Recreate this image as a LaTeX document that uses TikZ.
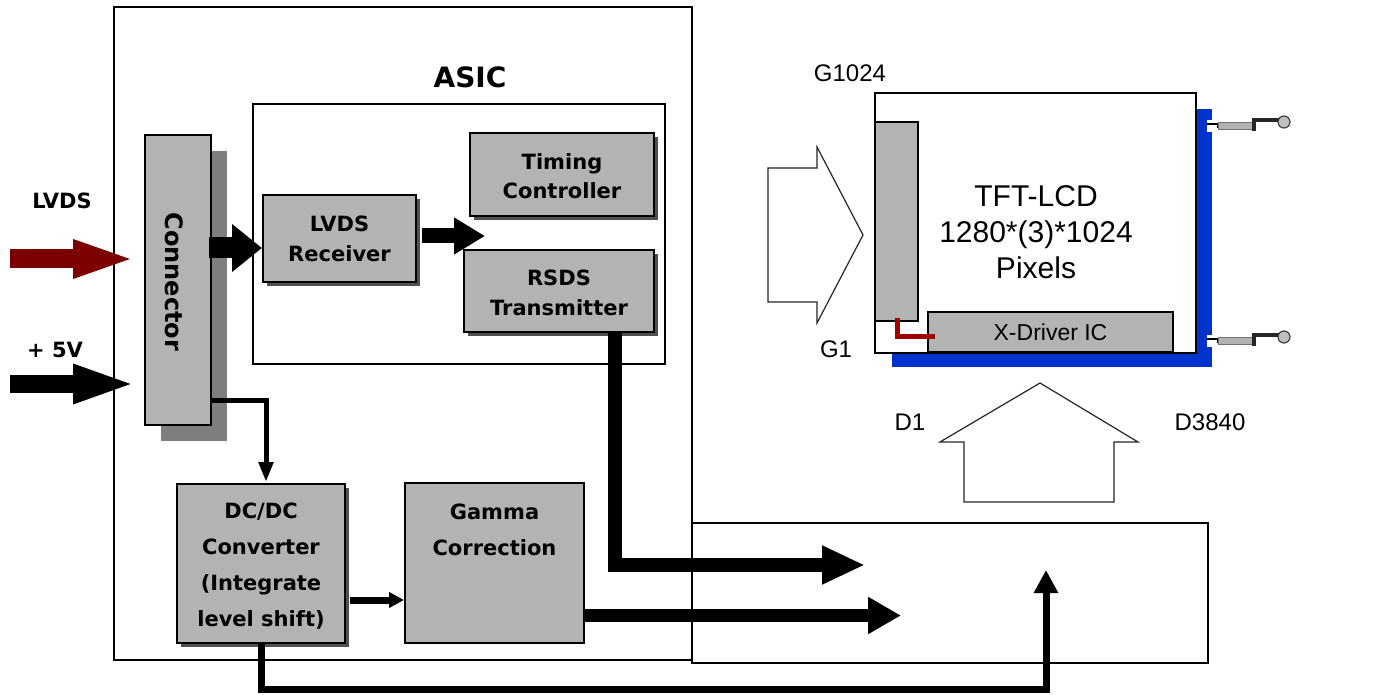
\documentclass[tikz,border=0pt]{standalone}
\usepackage{fontspec}
\setmainfont{Liberation Sans}
\newfontfamily\dejav{DejaVu Sans}
\usetikzlibrary{arrows.meta,shadows,calc}
\definecolor{boxgray}{HTML}{B3B3B3}
\definecolor{shadowgray}{HTML}{7F7F7F}
\definecolor{darkshadow}{HTML}{505050}
\definecolor{lvdsred}{HTML}{7D0000}
\definecolor{panelblue}{HTML}{0033CC}
\definecolor{wirered}{HTML}{A00000}
\begin{document}
\begin{tikzpicture}[x=0.5pt,y=-0.5pt,
  frame/.style={draw=black,line width=0.75pt},
  blk/.style={draw=black,line width=1pt,fill=boxgray,inner sep=0pt},
  sblk/.style={blk,general shadow={fill=darkshadow,shadow xshift=2pt,shadow yshift=-2pt}},
  btxt/.style={font=\dejav\bfseries\fontsize{10.5}{15}\selectfont,align=center,inner sep=0pt},
  ltxt/.style={font=\fontsize{12}{12}\selectfont,inner sep=0pt},
  outline/.style={draw=black!85,line width=0.6pt,fill=white,line join=miter},
]
\useasboundingbox (0,0) rectangle (1382,695);
\fill[white] (0,0) rectangle (1382,695);

% frames
\node[frame,minimum width=289pt,minimum height=326.5pt,inner sep=0pt] (asic) at (403,333.5) {};
\node[frame,minimum width=258pt,minimum height=70pt,inner sep=0pt] (outbox) at (950,593) {};
\node[frame,minimum width=206pt,minimum height=130pt,inner sep=0pt] (inner) at (459,234) {};
\node[font=\dejav\bfseries\fontsize{14}{14}\selectfont,inner sep=0pt] (asiclbl) at (470,77) {ASIC};

% connector block
\node[blk,minimum width=33pt,minimum height=145pt,
  general shadow={fill=shadowgray,shadow xshift=8pt,shadow yshift=-8pt}] (conn) at (178,280) {};
\node[rotate=-90,font=\dejav\bfseries\fontsize{12}{12}\selectfont,inner sep=0pt] (connlbl) at (174,282) {Connector};

% inner blocks
\node[sblk,minimum width=76.5pt,minimum height=43.5pt] (recv) at (339.5,238.5) {};
\node[btxt] at (recv.center) {LVDS\\Receiver};
\node[sblk,minimum width=92pt,minimum height=41.5pt] (timing) at (562,174.5) {};
\node[btxt,font=\dejav\bfseries\fontsize{10.5}{14.5}\selectfont] at ($(timing.center)+(0,2)$) {Timing\\Controller};
\node[sblk,minimum width=95pt,minimum height=41pt] (rsds) at (559,291) {};
\node[btxt] at ($(rsds.center)+(0,2)$) {RSDS\\Transmitter};
\node[sblk,minimum width=84pt,minimum height=79.5pt] (dcdc) at (261,563.5) {};
\node[btxt,font=\dejav\bfseries\fontsize{10.5}{18}\selectfont] at ($(dcdc.center)+(0,3)$) {DC/DC\\Converter\\(Integrate\\level shift)};
\node[blk,minimum width=89.5pt,minimum height=80pt] (gamma) at (494.5,563) {};
\node[btxt,font=\dejav\bfseries\fontsize{10.5}{18}\selectfont,anchor=north] at ($(gamma.north)+(0,22)$) {Gamma\\Correction};

% input labels
\node[btxt] (lvdslbl) at (62,201) {LVDS};
\node[btxt] (vlbl) at (55,350) {+ 5V};

% coordinates for free ends
\coordinate (lvdsin) at (10,259);
\coordinate (lvdstip) at (137,259);
\coordinate (vin) at (10,384);
\coordinate (vtip) at (137,384);
\coordinate (tcon) at (485,236);
\coordinate (rsdsend) at (865,565);
\coordinate (gamend) at (901,615.5);
\coordinate (dcend) at (1046,570);

% block arrows
\draw[lvdsred,line width=9.5pt,-{Triangle[length=32pt,width=17pt]}] (lvdsin) -- (lvdstip);
\draw[black,line width=9pt,-{Triangle[length=32pt,width=17.5pt]}] (vin) -- (vtip);
\draw[black,line width=10.5pt,-{Triangle[length=15pt,width=23pt]}] ($(conn.east)+(-3,-32)$) -- ($(recv.west)+(0,9.5)$);
\draw[black,line width=7.5pt,-{Triangle[length=15.5pt,width=17.5pt]}] ($(recv.east)+(5,-2.5)$) -- (tcon);
\draw[black,line width=2.5pt,-{Triangle[length=10pt,width=7pt]}] ($(conn.east)+(0,120)$) -| ($(dcdc.north)+(5,-1)$);
\draw[black,line width=3.5pt,-{Triangle[length=7.5pt,width=7.5pt]}] ($(dcdc.east)+(4,36.5)$) -- ($(gamma.west)+(0,37)$);
\draw[black,line width=7pt,-{Triangle[length=21.5pt,width=18pt]}] ($(rsds.south)+(56,0)$) |- (rsdsend);
\draw[black,line width=6.5pt,-{Triangle[length=16.5pt,width=17.5pt]}] ($(gamma.east)+(0,52.5)$) -- (gamend);
\draw[black,line width=3.5pt,line join=miter,-{Triangle[length=11.5pt,width=11.5pt]}] (dcdc.south) |- (1046,689) -- (dcend);

% LCD panel
\fill[panelblue] (892,353) rectangle (1212,367);
\fill[panelblue] (1196,109) rectangle (1212,367);
\fill[white] (1207,120) rectangle (1213,132);
\fill[white] (1207,335) rectangle (1213,347);
\node[frame,fill=white,minimum width=160.5pt,minimum height=130pt,inner sep=0pt] (lcd) at (1035.5,223) {};
\node[blk,line width=0.75pt,minimum width=21.5pt,minimum height=99.5pt] (gate) at (896.5,221.5) {};
\node[blk,line width=0.75pt,minimum width=122.5pt,minimum height=20pt] (xdrv) at (1050.5,332) {};
\node[font=\fontsize{11.5}{11.5}\selectfont,inner sep=0pt] at (xdrv.center) {X-Driver IC};
\draw[wirered,line width=2.5pt] (897,318) -- (897,337) -- (935,337);
\node[font=\fontsize{15}{18}\selectfont,align=center,inner sep=0pt] (lcdtxt) at (1036,232) {TFT-LCD\\1280*(3)*1024\\Pixels};

% pins
\foreach \dy in {0,215}{
  \draw[black,line width=0.6pt] (1207,{124+\dy}) -- (1218,{124+\dy}) -- (1218,{128+\dy});
  \draw[draw=black!55,fill=black!30,line width=0.4pt] (1218,{122.5+\dy}) rectangle (1253,{129.5+\dy});
  \draw[black!85,line width=1.8pt] (1254,{131+\dy}) -- (1254,{120+\dy}) -- (1280,{120+\dy});
  \draw[draw=black!75,fill=black!25,line width=0.6pt] (1284,{122+\dy}) circle[radius=6];
}

% G/D arrows
\draw[outline] (768,168) -- (817,168) -- (817,147) -- (863,235) -- (817,323) -- (817,302) -- (768,302) -- cycle;
\draw[outline] (964,502) -- (964,442) -- (940,442) -- (1040,383) -- (1138,442) -- (1114,442) -- (1114,502) -- cycle;

\node[ltxt] (g1024) at (850,73) {G1024};
\node[ltxt] (g1) at (836,349) {G1};
\node[ltxt] (d1) at (910,422) {D1};
\node[ltxt] (d3840) at (1210,422) {D3840};
\end{tikzpicture}
\end{document}
